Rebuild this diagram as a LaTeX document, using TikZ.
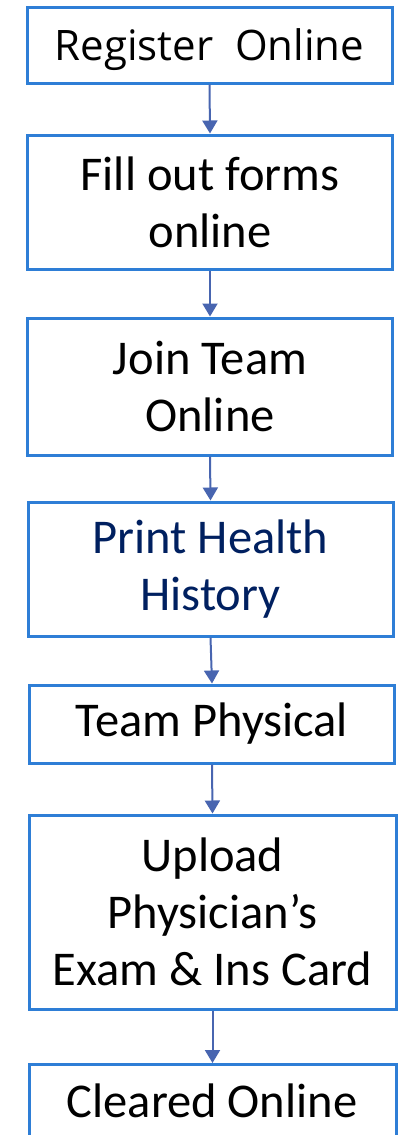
\documentclass[tikz,border=0pt]{standalone}
\usepackage{fontspec}
\setmainfont{Carlito}
\newfontfamily\regfont{Open Sans}
\usetikzlibrary{arrows.meta}
\definecolor{boxblue}{RGB}{46,126,214}
\definecolor{arrowblue}{RGB}{72,101,176}
\definecolor{navy}{RGB}{0,32,96}
\tikzset{
  stepbox/.style={draw=boxblue, line width=3pt, fill=white, minimum width=365pt, inner sep=0pt, align=center, font=\fontsize{48.5}{57}\selectfont},
  flow/.style={draw=arrowblue, line width=2pt, -{Triangle[width=15pt,length=13pt]}}
}
\begin{document}
\begin{tikzpicture}[x=1pt,y=1pt]
\useasboundingbox (0,0) rectangle (401,-1135);
\node[stepbox, minimum height=76pt, text depth=0pt, font=\regfont\fontsize{42}{52}\selectfont] (b1) at (209.5,-45) {Register\ \ Online};
\node[stepbox, minimum height=134pt] (b2) at (210,-202) {Fill out forms\\online};
\node[stepbox, minimum height=137pt] (b3) at (210,-386.5) {Join Team\\Online};
\node[stepbox, minimum height=134pt, text=navy] (b4) at (210.5,-569) {Print Health\\History};
\node[stepbox, minimum height=78pt] (b5) at (212,-724) {Team Physical};
\node[stepbox, minimum height=194pt, minimum width=367pt] (b6) at (212.5,-912) {Upload\\Physician’s\\Exam \& Ins Card};
\node[stepbox, minimum height=110pt, minimum width=367pt, anchor=north] (b7) at (212.5,-1063) {};
\node[font=\fontsize{48.5}{57}\selectfont, anchor=base] (t7) at (212,-1117) {Cleared Online};
\draw[flow] (b1.south) -- (b2.north);
\draw[flow] (b2.south) -- (b3.north);
\draw[flow] (b3.south) -- (b4.north);
\draw[flow] (b4.south) -- (b5.north);
\draw[flow] (b5.south) -- (b6.north);
\draw[flow] (b6.south) -- (b7.north);
\end{tikzpicture}
\end{document}
